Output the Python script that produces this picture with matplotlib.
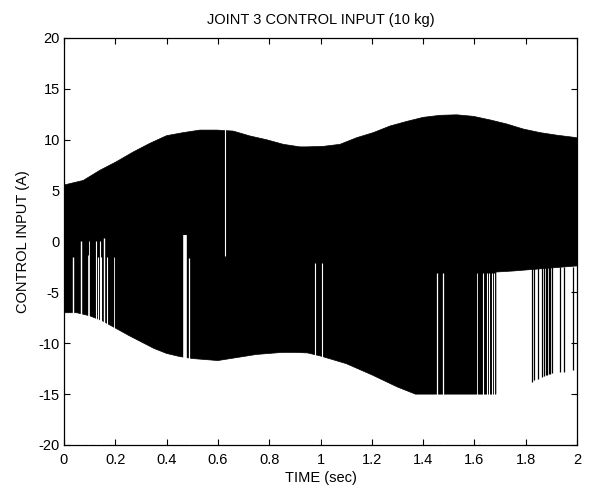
import matplotlib
matplotlib.use("Agg")
import matplotlib.pyplot as plt

# ---- data ----
# upper envelope of the chattering control signal
t_upper = [0.0, 0.075, 0.14, 0.205, 0.27, 0.335, 0.40, 0.465, 0.53, 0.595, 0.66,
           0.725, 0.79, 0.855, 0.92, 0.946, 1.011, 1.076, 1.141, 1.206, 1.271,
           1.336, 1.40, 1.466, 1.531, 1.596, 1.661, 1.726, 1.791, 1.856, 1.921, 2.0]
u_upper = [5.55, 6.0, 7.0, 7.85, 8.8, 9.65, 10.4, 10.7, 10.95, 10.95, 10.85,
           10.37, 10.0, 9.55, 9.3, 9.3, 9.35, 9.55, 10.2, 10.7, 11.35,
           11.8, 12.2, 12.4, 12.45, 12.3, 11.95, 11.55, 11.05, 10.7, 10.45, 10.2]

# lower boundary of the black band (lower envelope, then the middle level after ~1.68 s)
t_lower = [0.0, 0.05, 0.1, 0.15, 0.2, 0.25, 0.3, 0.35, 0.4, 0.45, 0.5, 0.55, 0.6,
           0.65, 0.7, 0.75, 0.8, 0.85, 0.9, 0.95, 1.0, 1.1, 1.2, 1.3, 1.37, 1.684,
           1.684, 1.75, 1.8, 1.9, 2.0]
u_lower = [-7.0, -7.0, -7.3, -7.8, -8.5, -9.2, -9.85, -10.5, -11.0, -11.3, -11.5,
           -11.6, -11.7, -11.5, -11.3, -11.1, -11.0, -10.9, -10.9, -10.95, -11.25,
           -12.0, -13.1, -14.3, -15.0, -15.0,
           -3.0, -2.9, -2.8, -2.6, -2.4]

# white gaps (intervals where the signal did not switch down): time, top value, width
gap_t = [0.034, 0.066, 0.094, 0.097, 0.126, 0.131, 0.140, 0.144, 0.155, 0.166, 0.195,
         0.470, 0.489, 0.978, 1.006, 1.455, 1.479, 1.611, 1.635, 1.649, 1.658, 1.669, 1.676]
gap_top = [-1.5, 0.0, -1.3, 0.0, 0.0, -1.5, 0.0, -1.5, 0.3, -1.5, -1.5,
           0.6, -1.6, -2.15, -2.15, -3.1, -3.1, -3.1, -3.1, -3.1, -3.1, -3.1, -3.1]
gap_w = [1.0, 1.0, 0.6, 0.6, 0.8, 0.8, 0.8, 0.8, 1.0, 0.8, 0.6,
         2.6, 0.9, 0.8, 0.8, 0.9, 0.9, 0.6, 0.8, 0.8, 0.8, 0.8, 0.8]

# white line crossing the upper band
gap2_t = [0.628]
gap2_bottom = [-1.4]

# dark spikes down after 1.68 s: time, bottom value
spike_t = [1.823, 1.833, 1.849, 1.864, 1.871, 1.878, 1.884, 1.890, 1.896, 1.902,
           1.935, 1.950, 1.984]
spike_bottom = [-13.8, -13.6, -13.5, -13.3, -13.2, -13.1, -13.1, -13.0, -13.0, -12.9,
                -12.8, -12.8, -12.6]

x_ticks = [0, 0.2, 0.4, 0.6, 0.8, 1.0, 1.2, 1.4, 1.6, 1.8, 2.0]
x_ticklabels = ["0", "0.2", "0.4", "0.6", "0.8", "1", "1.2", "1.4", "1.6", "1.8", "2"]
y_ticks = [-20, -15, -10, -5, 0, 5, 10, 15, 20]

plt.rcParams['font.family'] = ['Liberation Sans', 'DejaVu Sans']
plt.rcParams['axes.unicode_minus'] = False
fs = 10.5

fig = plt.figure(figsize=(5.91, 4.87), dpi=100)
ax = fig.add_axes([64/591, 42/487, 513/591, 407/487])

# black chattering band
poly_x = list(t_upper) + list(reversed(t_lower))
poly_y = list(u_upper) + list(reversed(u_lower))
ax.fill(poly_x, poly_y, color='black', lw=0.5, edgecolor='black', zorder=1)

# spikes
ax.vlines(spike_t, spike_bottom, [-2.5] * len(spike_t), colors='black', lw=0.9, zorder=2)

# white gaps
for t, top, w in zip(gap_t, gap_top, gap_w):
    ax.vlines(t, -19.9, top, colors='white', lw=w, zorder=3)
ax.vlines(gap2_t, gap2_bottom, [19.9], colors='white', lw=0.8, zorder=3)

ax.set_xlim(0, 2)
ax.set_ylim(-20, 20)
ax.set_xticks(x_ticks)
ax.set_xticklabels(x_ticklabels)
ax.set_yticks(y_ticks)
ax.tick_params(direction='in', length=4, width=0.8, top=True, right=True,
               labelsize=fs)
ax.tick_params(axis='x', pad=5.5)
ax.tick_params(axis='y', pad=3)
for s in ax.spines.values():
    s.set_linewidth(0.9)

ax.set_title("JOINT 3 CONTROL INPUT (10 kg)", fontsize=fs, pad=10)
ax.set_xlabel("TIME (sec)", fontsize=fs, labelpad=3)
ax.set_ylabel("CONTROL INPUT (A)", fontsize=fs, labelpad=6)

fig.savefig("out.png", dpi=100)
